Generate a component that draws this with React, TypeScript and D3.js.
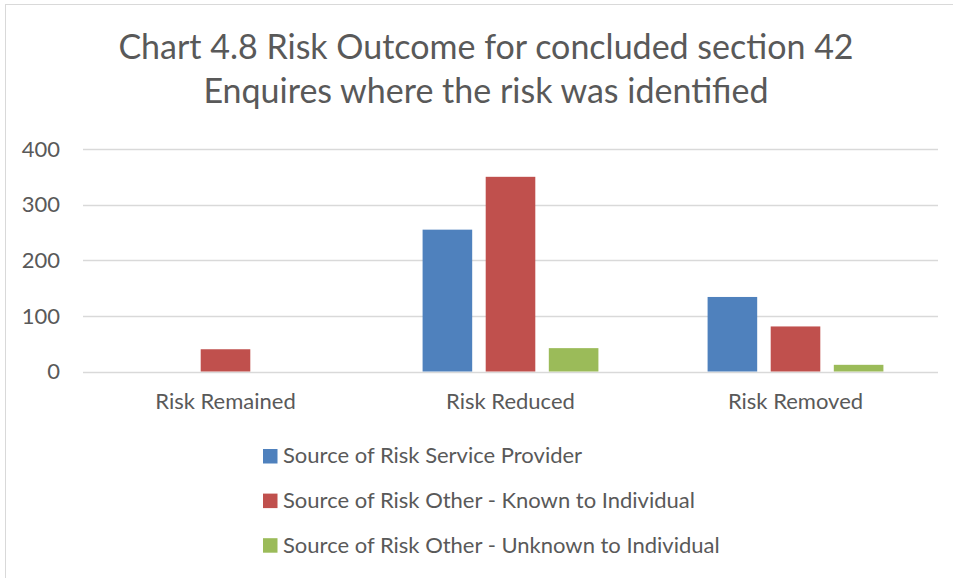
import React from "react";
import * as d3 from "d3";

const categories = ["Risk Remained", "Risk Reduced", "Risk Removed"];
const seriesNames = [
  "Source of Risk Service Provider",
  "Source of Risk Other - Known to Individual",
  "Source of Risk Other - Unknown to Individual",
];
const serviceProvider = [0, 255, 134];
const otherKnown = [40, 350, 81];
const otherUnknown = [0, 42, 12];
const yTicks = [0, 100, 200, 300, 400];
const colors = ["#4F81BD", "#C0504D", "#9BBB59"];
const titleLines = [
  "Chart 4.8 Risk Outcome for concluded section 42",
  "Enquires where the risk was identified",
];

const W = 953;
const H = 578;
const FONT = "Lato, 'Open Sans', sans-serif";
const TEXT = "#595959";

export default function App() {
  const seriesValues = [serviceProvider, otherKnown, otherUnknown];
  const x0 = d3.scaleBand<string>().domain(categories).range([83, 938]).paddingInner(0).paddingOuter(0);
  const x1 = d3
    .scaleBand<string>()
    .domain(seriesNames)
    .range([0, x0.bandwidth()])
    .paddingInner(0.214)
    .paddingOuter(0.865);
  const y = d3.scaleLinear().domain([0, 400]).range([371.5, 149]);

  return (
    <svg
      width={W}
      height={H}
      style={{ position: "absolute", left: 0, top: 0, background: "#fff" }}
      fontFamily={FONT}
    >
      <rect x={0} y={0} width={W} height={H} fill="#fff" />
      {/* chart border */}
      <line x1={5} y1={4.5} x2={W} y2={4.5} stroke="#D9D9D9" strokeWidth={1} />
      <line x1={5.5} y1={4} x2={5.5} y2={H} stroke="#D9D9D9" strokeWidth={1} />

      {/* title */}
      {titleLines.map((t, i) => (
        <text key={i} x={486} y={59 + i * 44} textAnchor="middle" fontSize={34} fill={TEXT}>
          {t}
        </text>
      ))}

      {/* grid lines */}
      {yTicks.map((t) => (
        <line
          key={t}
          x1={83}
          x2={938}
          y1={Math.round(y(t)) + 0.5}
          y2={Math.round(y(t)) + 0.5}
          stroke="#D9D9D9"
          strokeWidth={1.3}
        />
      ))}
      {/* y labels */}
      {yTicks.map((t) => (
        <text key={t} x={60} y={y(t)} dy="0.35em" textAnchor="end" fontSize={22} fill={TEXT}>
          {t}
        </text>
      ))}

      {/* bars */}
      {categories.map((c, ci) => (
        <g key={c} transform={`translate(${x0(c)},0)`}>
          {seriesNames.map((s, si) => {
            const v = seriesValues[si][ci];
            if (!v) return null;
            return (
              <rect
                key={s}
                x={x1(s)}
                y={y(v)}
                width={x1.bandwidth()}
                height={y(0) - y(v)}
                fill={colors[si]}
              />
            );
          })}
        </g>
      ))}

      {/* category labels */}
      {categories.map((c) => (
        <text
          key={c}
          x={(x0(c) as number) + x0.bandwidth() / 2}
          y={409}
          textAnchor="middle"
          fontSize={22}
          fill={TEXT}
        >
          {c}
        </text>
      ))}

      {/* legend */}
      {seriesNames.map((s, i) => (
        <g key={s} transform={`translate(263,${449 + i * 44.6})`}>
          <rect x={0} y={0} width={14.5} height={14.5} fill={colors[i]} />
          <text x={20} y={14.3} fontSize={22} fill={TEXT}>
            {s}
          </text>
        </g>
      ))}
    </svg>
  );
}
